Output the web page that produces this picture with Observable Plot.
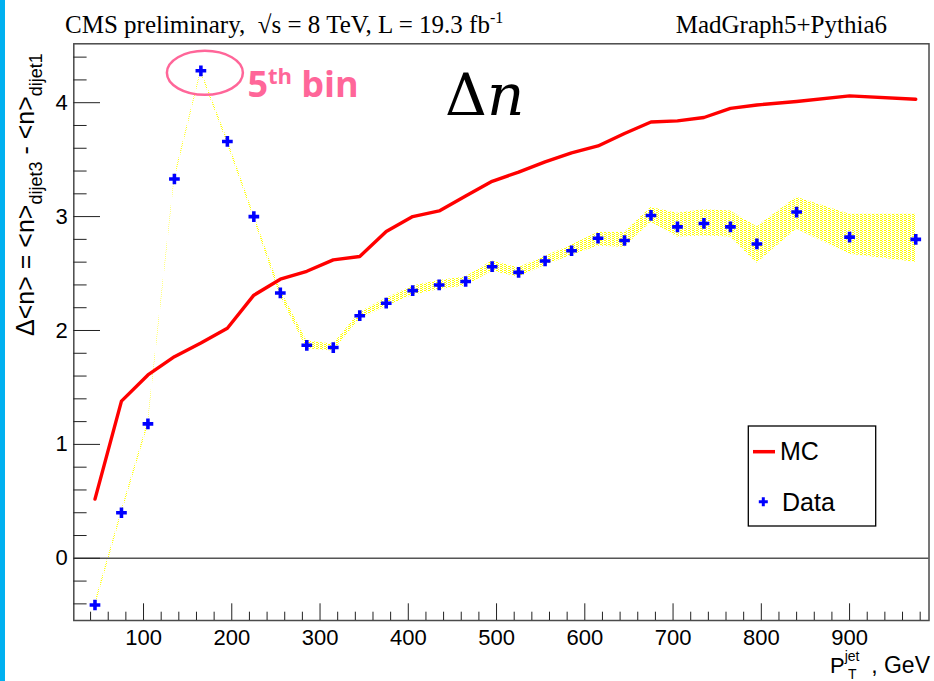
<!DOCTYPE html>
<html><head><meta charset="utf-8">
<script src="https://cdn.jsdelivr.net/npm/d3@7"></script>
<script src="https://cdn.jsdelivr.net/npm/@observablehq/plot@0.6"></script>
<style>
html,body{margin:0;padding:0;background:#fff;}
#chart{position:relative;width:934px;height:681px;overflow:hidden;background:#fff;}
#strip{position:absolute;left:0;top:0;width:5px;height:681px;background:#00b0f0;}
</style></head><body>
<div id="chart"><div id="strip"></div></div>
<script>
// ---- data ----
const ptBins = [45,75,105,135,165,195,225,255,285,315,345,375,405,435,465,495,525,555,585,615,645,675,705,735,765,795,840,900,975];
const dataValues = [-0.41,0.40,1.18,3.33,4.28,3.66,3.00,2.33,1.87,1.85,2.13,2.24,2.35,2.40,2.43,2.56,2.51,2.61,2.70,2.81,2.79,3.01,2.91,2.94,2.91,2.76,3.04,2.82,2.80];
const dataLow  = [-0.43,0.38,1.16,3.31,4.26,3.64,2.98,2.30,1.84,1.82,2.10,2.21,2.31,2.36,2.39,2.52,2.47,2.57,2.66,2.74,2.73,2.95,2.82,2.83,2.82,2.59,2.89,2.67,2.60];
const dataHigh = [-0.39,0.42,1.20,3.35,4.29,3.68,3.02,2.36,1.91,1.88,2.16,2.28,2.39,2.44,2.47,2.61,2.55,2.65,2.75,2.86,2.86,3.08,3.03,3.06,3.05,2.91,3.17,3.02,3.02];
const mcValues = [0.52,1.38,1.61,1.77,1.89,2.02,2.31,2.45,2.52,2.62,2.65,2.87,3.00,3.05,3.18,3.31,3.39,3.48,3.56,3.62,3.73,3.83,3.84,3.87,3.95,3.98,4.01,4.06,4.03];
const xMajorTicks = [100,200,300,400,500,600,700,800,900];
const xMinorTicks = [40,60,80,120,140,160,180,220,240,260,280,320,340,360,380,420,440,460,480,520,540,560,580,620,640,660,680,720,740,760,780,820,840,860,880,920,940,960,980];
const yMajorTicks = [0,1,2,3,4];
const yMinorTicks = [-0.4,-0.2,0.2,0.4,0.6,0.8,1.2,1.4,1.6,1.8,2.2,2.4,2.6,2.8,3.2,3.4,3.6,3.8,4.2,4.4];
const xDomain = [21, 990];
const yDomain = [-0.546, 4.517];
const highlightBin = 5;
const seriesNames = ["MC", "Data"];

const table = ptBins.map((pt, i) => ({bin: i + 1, pt, data: dataValues[i], lo: dataLow[i], hi: dataHigh[i], mc: mcValues[i]}));

const W = 934, H = 681, mL = 73.3, mR = 5.5, mT = 43.3, mB = 61;
const pink = "#ff6699";
const sans = "'Liberation Sans', Arial, sans-serif";
const serif = "'Liberation Serif', 'Times New Roman', serif";

const ellipseSymbol = {
  draw(ctx) {
    const rx = 38, ry = 22, k = 0.5523;
    ctx.moveTo(rx, 0);
    ctx.bezierCurveTo(rx, k * ry, k * rx, ry, 0, ry);
    ctx.bezierCurveTo(-k * rx, ry, -rx, k * ry, -rx, 0);
    ctx.bezierCurveTo(-rx, -k * ry, -k * rx, -ry, 0, -ry);
    ctx.bezierCurveTo(k * rx, -ry, rx, -k * ry, rx, 0);
    ctx.closePath();
  }
};

const plot = Plot.plot({
  width: W, height: H,
  marginLeft: mL, marginRight: mR, marginTop: mT, marginBottom: mB,
  style: {fontFamily: sans, fontSize: "22px", background: "transparent", color: "#000", overflow: "visible"},
  x: {domain: xDomain, label: null},
  y: {domain: yDomain, label: null},
  marks: [
    Plot.areaY(table, {x: "pt", y1: "lo", y2: "hi", fill: "url(#yellowDots)", curve: "linear"}),
    Plot.line(table, {x: "pt", y: "mc", stroke: "#ff0000", strokeWidth: 3.4, curve: "linear"}),
    Plot.ruleY([0], {stroke: "#555", strokeWidth: 1.6}),
    Plot.dot(table, {x: "pt", y: "data", symbol: "cross", fill: "#0000ff", r: 4.5}),
    Plot.dot(table.filter(d => d.bin === highlightBin), {x: "pt", y: "data", symbol: ellipseSymbol, fill: "none", stroke: pink, strokeWidth: 2.5, dx: 4, dy: 2}),
    Plot.frame({stroke: "#4a4a4a", strokeWidth: 1.5}),
    Plot.axisX(xMajorTicks, {tickSize: -16.7, tickFormat: () => "", label: null, stroke: "#222"}),
    Plot.axisX(xMinorTicks, {tickSize: -8.3, tickFormat: () => "", label: null, stroke: "#222"}),
    Plot.axisX(xMajorTicks, {tickSize: 0, tickPadding: 9, label: null, fontSize: 22, tickFormat: d => String(d)}),
    Plot.axisY(yMajorTicks, {tickSize: -26.7, tickFormat: () => "", label: null, stroke: "#222"}),
    Plot.axisY(yMinorTicks, {tickSize: -13.3, tickFormat: () => "", label: null, stroke: "#222"}),
    Plot.axisY(yMajorTicks, {tickSize: 0, tickPadding: 6, label: null, fontSize: 22, tickFormat: d => String(d)})
  ]
});

document.getElementById("chart").appendChild(plot);
const svg = d3.select(plot);
const sx = plot.scale("x"), sy = plot.scale("y");

// dotted hatch pattern for the data uncertainty band
const pat = svg.insert("defs", ":first-child").append("pattern")
  .attr("id", "yellowDots").attr("patternUnits", "userSpaceOnUse").attr("width", 4).attr("height", 2);
[[0, 0, 2], [2, 1, 1]].forEach(([x, y, w]) =>
  pat.append("rect").attr("x", x).attr("y", y).attr("width", w).attr("height", 1).attr("fill", "#ffff00"));

function addText(sel, x, y, family, size, anchor) {
  return sel.append("text").attr("x", x).attr("y", y).attr("font-family", family).attr("font-size", size)
    .attr("text-anchor", anchor || "start").attr("fill", "#000");
}

// header texts
const t1 = addText(svg, 65, 33, serif, 25);
t1.append("tspan").text("CMS preliminary,  \u221As = 8 TeV, L = 19.3 fb");
t1.append("tspan").attr("font-size", 16).attr("dy", -10).text("-1");
addText(svg, 887, 33, serif, 25, "end").text("MadGraph5+Pythia6");

// big Δn
const dn = addText(svg, 445, 115, "'DejaVu Serif', serif", 58);
dn.append("tspan").text("\u0394");
dn.append("tspan").attr("font-style", "italic").text("n");

// 5th bin annotation
const hb = table.find(d => d.bin === highlightBin);
const ann = addText(svg, sx.apply(hb.pt) + 47, sy.apply(hb.data) + 27, "'Open Sans', 'Noto Sans', sans-serif", 36)
  .attr("font-weight", 700).attr("fill", pink);
ann.append("tspan").text(String(highlightBin));
ann.append("tspan").attr("font-size", 22).attr("dy", -13).text("th");
ann.append("tspan").attr("dy", 13).text(" bin");

// y axis title
const yl = svg.append("text").attr("transform", "translate(34,336) rotate(-90)").attr("text-anchor", "start")
  .attr("font-family", sans).attr("font-size", 25).attr("fill", "#000");
yl.append("tspan").text("\u0394<n> = <n>");
yl.append("tspan").attr("font-size", 18).attr("dy", 8).text("dijet3");
yl.append("tspan").attr("dy", -8).text(" - <n>");
yl.append("tspan").attr("font-size", 18).attr("dy", 8).text("dijet1");

// x axis title
const xl = addText(svg, 830, 673, sans, 22);
xl.append("tspan").text("P");
xl.append("tspan").attr("font-size", 14).attr("dy", -12).text("jet");
xl.append("tspan").attr("font-size", 14).attr("x", 848).attr("dy", 18).text("T");
addText(svg, 930, 673, sans, 23, "end").text(", GeV");

// legend
const lg = svg.append("g");
lg.append("rect").attr("x", 748.3).attr("y", 426).attr("width", 127.4).attr("height", 100).attr("fill", "#fff").attr("stroke", "#000").attr("stroke-width", 1.3);
lg.append("line").attr("x1", 753).attr("x2", 775).attr("y1", 451.7).attr("y2", 451.7).attr("stroke", "#ff0000").attr("stroke-width", 3.5);
addText(lg, 780, 460, sans, 25).text(seriesNames[0]);
lg.append("path").attr("transform", "translate(763.3,501.7)").attr("d", d3.symbol(d3.symbolCross, 45)()).attr("fill", "#0000ff");
addText(lg, 782, 510.7, sans, 25).text(seriesNames[1]);
</script>
</body></html>
